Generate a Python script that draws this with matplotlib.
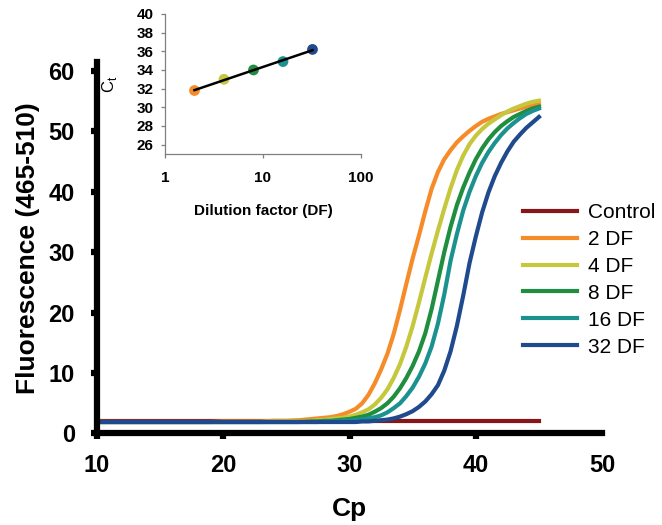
import matplotlib.pyplot as plt
import numpy as np

plt.rcParams['font.family'] = ['Liberation Sans', 'DejaVu Sans']
plt.rcParams['mathtext.fontset'] = 'custom'
plt.rcParams['mathtext.rm'] = 'Liberation Sans'

# amplification cycles (Cp): whole cycles on the flat part, half cycles after 27
cycles = list(range(10, 27)) + list(np.arange(27, 45.5, 0.5))

control_cp = [10, 20, 30, 40, 45]
control = [2.0, 2.0, 2.0, 2.0, 2.0]

df2 = [1.9, 1.9, 1.9, 1.9, 1.9, 1.9, 1.9, 1.9, 1.9, 1.9, 2.0, 2.0, 2.0, 2.0, 2.1, 2.1, 2.2,
       2.4, 2.5, 2.6, 2.7, 2.9, 3.2, 3.6, 4.1, 5.0, 6.4, 8.3, 10.6, 13.2, 16.5, 20.5, 24.8,
       29.0, 32.8, 36.8, 40.5, 43.3, 45.4, 46.9, 48.2, 49.2, 50.1, 50.9, 51.6, 52.1, 52.5,
       52.9, 53.2, 53.5, 53.8, 54.1, 54.3, 54.5]
df4 = [1.9, 1.9, 1.9, 1.9, 1.9, 1.9, 1.9, 1.9, 1.9, 1.9, 1.9, 1.9, 1.9, 1.9, 2.0, 2.0, 2.0,
       2.1, 2.2, 2.3, 2.4, 2.5, 2.6, 2.8, 3.1, 3.5, 4.0, 4.8, 5.9, 7.3, 9.2, 11.5, 14.4,
       17.8, 21.7, 25.8, 29.8, 33.6, 37.2, 40.6, 43.6, 46.0, 47.9, 49.3, 50.4, 51.3, 52.0,
       52.7, 53.3, 53.8, 54.2, 54.6, 54.9, 55.1]
df8 = [1.9, 1.9, 1.9, 1.9, 1.9, 1.9, 1.9, 1.9, 1.9, 1.9, 1.9, 1.9, 1.9, 1.9, 1.9, 1.9, 1.9,
       2.0, 2.0, 2.1, 2.1, 2.2, 2.3, 2.4, 2.6, 2.8, 3.1, 3.6, 4.2, 5.0, 6.1, 7.5, 9.2,
       11.2, 13.6, 16.6, 20.6, 25.3, 30.0, 34.2, 37.8, 40.7, 43.2, 45.4, 47.2, 48.7, 49.9,
       50.9, 51.7, 52.4, 52.9, 53.4, 53.8, 54.1]
df16 = [1.9, 1.9, 1.9, 1.9, 1.9, 1.9, 1.9, 1.9, 1.9, 1.9, 1.9, 1.9, 1.9, 1.9, 1.9, 1.9, 1.9,
        1.9, 1.9, 2.0, 2.0, 2.0, 2.1, 2.1, 2.2, 2.3, 2.5, 2.7, 3.0, 3.5, 4.2, 5.0, 6.2,
        7.6, 9.4, 11.6, 14.4, 18.2, 23.0, 28.6, 33.0, 36.9, 40.0, 42.6, 44.8, 46.6, 48.1,
        49.4, 50.5, 51.4, 52.2, 52.9, 53.4, 53.8]
df32 = [1.9, 1.9, 1.9, 1.9, 1.9, 1.9, 1.9, 1.9, 1.9, 1.9, 1.9, 1.9, 1.9, 1.9, 1.9, 1.9, 1.9,
        1.9, 1.9, 1.9, 1.9, 1.9, 1.9, 1.9, 1.9, 2.0, 2.0, 2.1, 2.2, 2.3, 2.5, 2.8, 3.2,
        3.7, 4.4, 5.3, 6.5, 8.0, 10.4, 13.6, 17.8, 22.8, 28.2, 32.6, 36.6, 39.9, 42.6,
        44.8, 46.7, 48.3, 49.5, 50.6, 51.5, 52.4]

labels = ['Control', '2 DF', '4 DF', '8 DF', '16 DF', '32 DF']
colors = ['#861618', '#F68B2A', '#C5C73C', '#1F8E3E', '#1B9290', '#1F4A8E']

# inset: threshold cycle vs dilution factor
dilution = [2, 4, 8, 16, 32]
ct = [31.8, 33.0, 34.0, 34.9, 36.2]

fig = plt.figure(figsize=(6.62, 5.25), dpi=100)
ax = fig.add_axes([0.1465, 0.1743, 0.763, 0.7076])

handles = []
h, = ax.plot(control_cp, control, color=colors[0], lw=3, label=labels[0])
handles.append(h)
for lab, vals, col in zip(labels[1:], [df2, df4, df8, df16, df32], colors[1:]):
    h, = ax.plot(cycles, vals, color=col, lw=3, label=lab)
    handles.append(h)

ax.set_xlim(10, 50)
ax.set_ylim(0, 61.5)
ax.set_xticks([10, 20, 30, 40, 50])
ax.set_yticks([0, 10, 20, 30, 40, 50, 60])
for s in ['top', 'right']:
    ax.spines[s].set_visible(False)
for s in ['left', 'bottom']:
    ax.spines[s].set_linewidth(4.5)
ax.tick_params(direction='out', length=4, width=4.5, labelsize=17)
ax.tick_params(axis='x', pad=11)
ax.tick_params(axis='y', pad=12)
ax.xaxis.get_major_ticks()[-1].tick1line.set_visible(False)
plt.setp(ax.get_xticklabels() + ax.get_yticklabels(), fontweight='bold')
ax.set_xlabel('Cp', fontsize=19, fontweight='bold', labelpad=14)
ax.set_ylabel('Fluorescence (465-510)', fontsize=19, fontweight='bold', labelpad=6)

fig.legend(handles, labels, loc='upper left', bbox_to_anchor=(523 / 662, 1 - 203 / 525),
           frameon=False, fontsize=15, handlelength=2.6, handletextpad=0.5,
           labelspacing=0.38, borderpad=0, borderaxespad=0)

# inset
ax2 = fig.add_axes([0.2492, 0.7067, 0.2961, 0.2667])
fit = np.polyfit(np.log10(dilution), ct, 1)
ends = [dilution[0], dilution[-1]]
ax2.scatter(dilution, ct, s=60, c=colors[1:], zorder=2, edgecolors='none')
ax2.plot(ends, np.polyval(fit, np.log10(ends)), color='black', lw=1.8, zorder=3)
ax2.set_xscale('log')
ax2.set_xlim(1, 100)
ax2.set_ylim(25, 40)
ax2.set_xticks([1, 10, 100])
ax2.set_xticklabels(['1', '10', '100'])
ax2.minorticks_off()
ax2.set_yticks([26, 28, 30, 32, 34, 36, 38, 40])
for s in ['top', 'right']:
    ax2.spines[s].set_visible(False)
for s in ['left', 'bottom']:
    ax2.spines[s].set_linewidth(0.9)
    ax2.spines[s].set_color('#7f7f7f')
ax2.tick_params(direction='out', length=3, width=0.9, color='#7f7f7f', labelsize=11)
ax2.tick_params(axis='x', pad=9)
ax2.tick_params(axis='y', pad=5)
plt.setp(ax2.get_xticklabels() + ax2.get_yticklabels(), fontweight='bold')
ax2.set_xlabel('Dilution factor (DF)', fontsize=11, fontweight='bold', labelpad=14)
ax2.set_ylabel(r'C$_\mathregular{t}$', fontsize=12, labelpad=13)

fig.savefig('out.png', dpi=100)
